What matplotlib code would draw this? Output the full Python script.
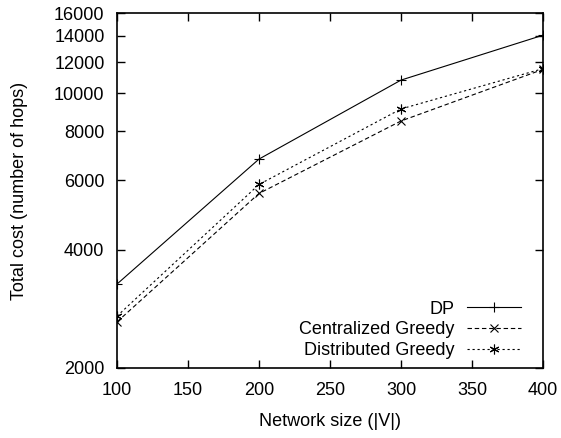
import matplotlib
matplotlib.use('Agg')
import matplotlib.pyplot as plt
from matplotlib.ticker import FixedLocator, NullLocator

plt.rcParams['font.family'] = ['Liberation Sans', 'DejaVu Sans']

# network sizes and total cost values
sizes = [100, 200, 300, 400]
dp = [3270, 6800, 10800, 14050]
cent_greedy = [2620, 5560, 8500, 11500]
dist_greedy = [2710, 5860, 9120, 11550]

yticks = [2000, 4000, 6000, 8000, 10000, 12000, 14000, 16000]
xticks = [100, 150, 200, 250, 300, 350, 400]

fig = plt.figure(figsize=(5.61, 4.38), dpi=100)
ax = fig.add_axes([117/561, 1 - 368/438, (543-117)/561, (368-13)/438])

lw = 0.8
ax.plot(sizes, dp, color='black', lw=lw, ls='-', marker='+', ms=7, mew=lw, label='DP')
ax.plot(sizes, cent_greedy, color='black', lw=lw, ls=(0, (4, 2.5)), marker='x', ms=6, mew=lw,
        label='Centralized Greedy')
ax.plot(sizes, dist_greedy, color='black', lw=lw, ls=(0, (2, 2.5)), marker=(6, 2, 0), ms=7, mew=lw,
        label='Distributed Greedy')

ax.set_yscale('log')
ax.set_xlim(100, 400)
ax.set_ylim(2000, 16000)
ax.yaxis.set_major_locator(FixedLocator(yticks))
ax.yaxis.set_minor_locator(NullLocator())
ax.set_yticks(yticks)
ax.set_yticklabels([str(v) for v in yticks])
ax.set_xticks(xticks)

ax.tick_params(direction='in', length=6, width=1, top=True, right=True, labelsize=13)
ax.tick_params(axis='y', pad=9)
ax.tick_params(axis='x', pad=10)
for s in ax.spines.values():
    s.set_linewidth(1.2)

ax.set_xlabel('Network size (|V|)', fontsize=13, labelpad=10)
ax.set_ylabel('Total cost (number of hops)', fontsize=13, labelpad=19)

ax.legend(loc='lower right', frameon=False, markerfirst=False, fontsize=13,
          handlelength=3.0, labelspacing=0.2, borderaxespad=0.0, handletextpad=0.7,
          bbox_to_anchor=(0.965, 0.005))

fig.savefig('out.png', dpi=100)
